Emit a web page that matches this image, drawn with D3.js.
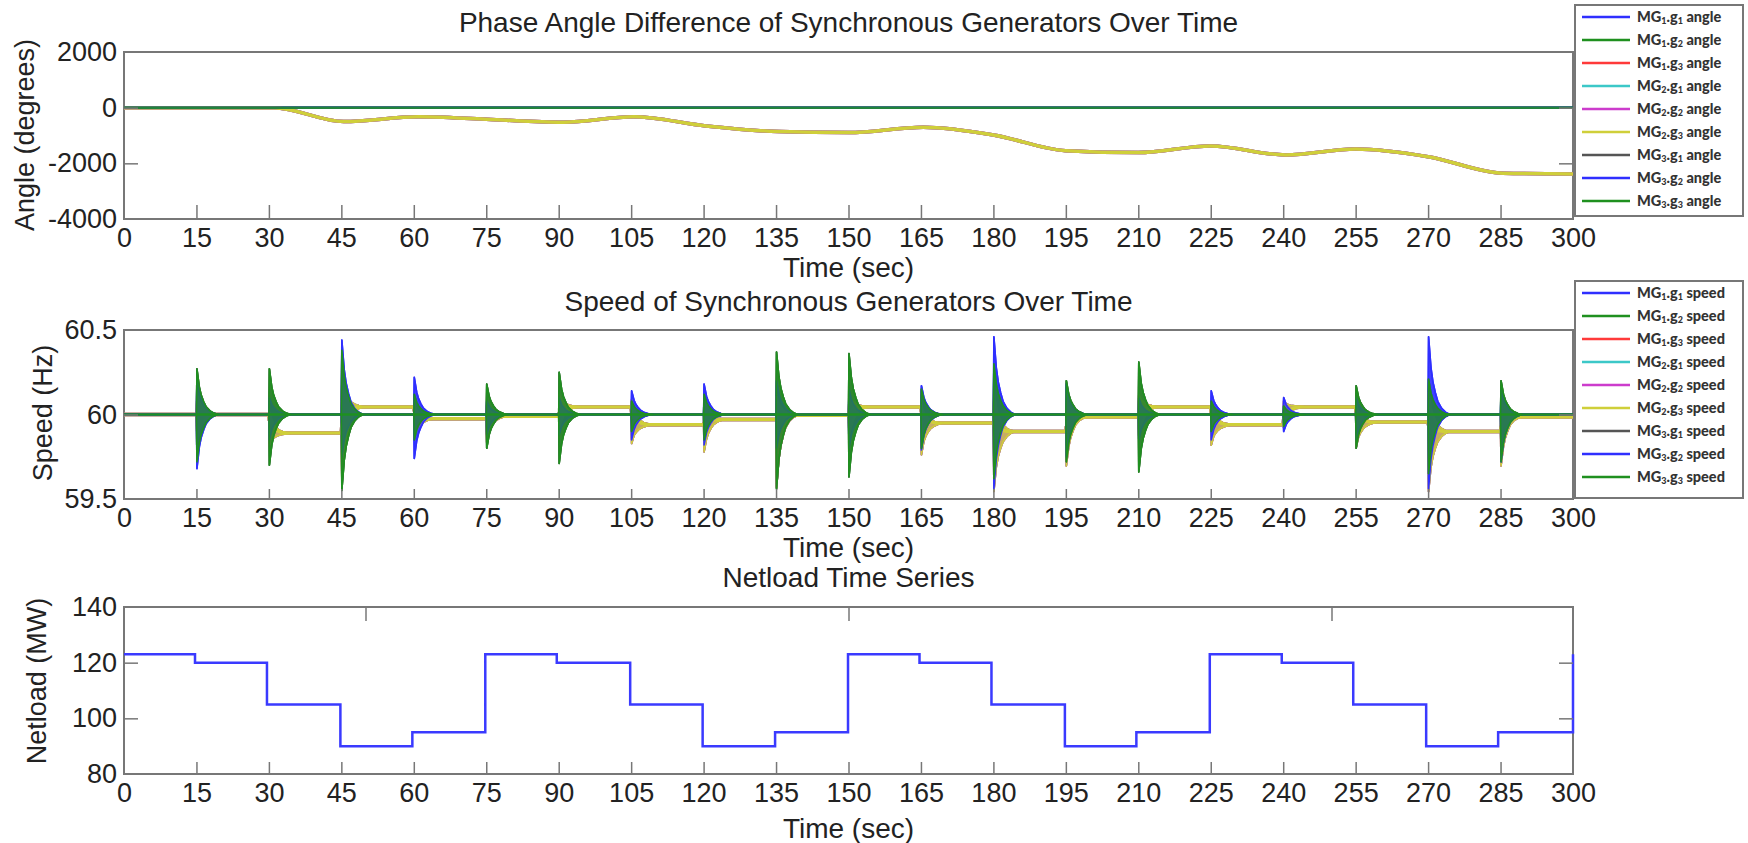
<!DOCTYPE html>
<html>
<head>
<meta charset="utf-8">
<script src="https://cdn.jsdelivr.net/npm/d3@7"></script>
<style>
  body { margin: 0; background: #fff; }
  svg text { font-family: "Liberation Sans", Arial, sans-serif; fill: #222; }
  .legend text { font-family: Lato, "Open Sans", sans-serif; font-weight: 900; fill: #333; }
</style>
</head>
<body>
<script>
// ---- data ----
const timeTicks = [0, 15, 30, 45, 60, 75, 90, 105, 120, 135, 150, 165, 180, 195, 210, 225, 240, 255, 270, 285, 300]
const generators = ['MG1.g1', 'MG1.g2', 'MG1.g3', 'MG2.g1', 'MG2.g2', 'MG2.g3', 'MG3.g1', 'MG3.g2', 'MG3.g3']
const seriesColors = ['#2f2fff', '#1f901f', '#ff3a3a', '#3cc8c8', '#cc3ccc', '#cfcf3a', '#555555', '#2f2fff', '#1f901f']

// phase angle: MG1.g3 and MG2.* drift away, the rest stay at 0
const angleGroup = ['zero', 'zero', 'drift', 'drift', 'drift', 'drift', 'zero', 'zero', 'zero']
const angleTimes = [0, 31, 45.5, 61, 75, 91, 105.5, 120.5, 135.5, 150, 165.5, 180, 195, 210, 225, 240.5, 255, 270, 285.5, 300]
const driftAngle = [0, 0, -500, -330, -420, -525, -325, -655, -860, -895, -705, -980, -1545, -1615, -1375, -1700, -1485, -1760, -2355, -2380]

// speed: one transient at every load step
const speedGroup = ['blue', 'green', 'drift', 'drift', 'drift', 'drift', 'green', 'blue', 'green']
const eventTimes = [15, 30, 45, 60, 75, 90, 105, 120, 135, 150, 165, 180, 195, 210, 225, 240, 255, 270, 285]
const greenHigh = [60.27, 60.27, 60.38, 60.12, 60.18, 60.25, 60.08, 60.12, 60.37, 60.36, 60.15, 60.30, 60.20, 60.31, 60.08, 60.05, 60.17, 60.21, 60.20]
const greenLow = [59.72, 59.70, 59.55, 59.85, 59.80, 59.71, 59.90, 59.85, 59.56, 59.63, 59.80, 59.62, 59.72, 59.66, 59.90, 59.93, 59.80, 59.65, 59.72]
const blueHigh = [60.22, 60.10, 60.44, 60.22, 60.08, 60.10, 60.14, 60.18, 60.20, 60.15, 60.17, 60.46, 60.18, 60.10, 60.14, 60.10, 60.10, 60.46, 60.15]
const blueLow = [59.68, 59.85, 59.75, 59.74, 59.88, 59.88, 59.85, 59.82, 59.80, 59.80, 59.79, 59.56, 59.75, 59.85, 59.85, 59.90, 59.85, 59.56, 59.72]
const driftHigh = [60.12, 60.05, 60.15, 60.08, 60.05, 60.10, 60.12, 60.10, 60.10, 60.10, 60.08, 60.15, 60.10, 60.10, 60.10, 60.05, 60.08, 60.15, 60.10]
const driftLow = [59.85, 59.85, 59.56, 59.88, 59.83, 59.90, 59.86, 59.77, 59.56, 59.85, 59.79, 59.56, 59.67, 59.85, 59.85, 59.89, 59.83, 59.56, 59.67]
const driftLevel = [60.0, 59.89, 60.045, 59.975, 59.99, 60.045, 59.94, 59.97, 59.995, 60.045, 59.95, 59.90, 59.985, 60.045, 59.94, 60.045, 59.955, 59.90, 59.985]
// shape of a transient (seconds after the step, share of the first swing left, share of the level change done)
const burstOffsets = [0, 0.1, 0.6, 1.0, 1.5, 2.0, 2.8, 3.6, 4.5]
const burstDecay = [0, 1, 0.6, 0.42, 0.28, 0.17, 0.08, 0.03, 0]
const burstSettle = [0, 0.3, 0.55, 0.7, 0.8, 0.9, 0.97, 1, 1]

// netload steps
const netloadTimes = [0, 14.7, 29.6, 44.8, 59.7, 74.8, 89.6, 104.8, 119.8, 134.8, 149.9, 164.7, 179.6, 194.8, 209.6, 224.8, 239.7, 254.5, 269.6, 284.5, 300]
const netloadValues = [123, 120, 105, 90, 95, 123, 120, 105, 90, 95, 123, 120, 105, 90, 95, 123, 120, 105, 90, 95, 123]

// ---- layout ----
const width = 1748, height = 843
const svg = d3.select('body').append('svg')
  .attr('width', width)
  .attr('height', height)

const x = d3.scaleLinear().domain([0, 300]).range([124, 1573])

const panels = [
  { id: 'angle', top: 52, bottom: 219, domain: [-4000, 2000], yTicks: [-4000, -2000, 0, 2000], innerY: [-2000, 0],
    tickLen: 14, title: 'Phase Angle Difference of Synchronous Generators Over Time', titleY: 32, xlabelY: 277,
    ylabel: 'Angle (degrees)', ylabelX: 34, ylabelY: 135 },
  { id: 'speed', top: 330, bottom: 499, domain: [59.5, 60.5], yTicks: [59.5, 60, 60.5], innerY: [60],
    tickLen: 10, title: 'Speed of Synchronous Generators Over Time', titleY: 311, xlabelY: 557,
    ylabel: 'Speed (Hz)', ylabelX: 52, ylabelY: 413 },
  { id: 'netload', top: 607, bottom: 774, domain: [80, 140], yTicks: [80, 100, 120, 140], innerY: [100, 120],
    tickLen: 12, topTicks: [50, 150, 250], title: 'Netload Time Series', titleY: 587, xlabelY: 838,
    ylabel: 'Netload (MW)', ylabelX: 46, ylabelY: 681 },
]

// boxes go in first so the data sits on top of the frame
const frames = svg.append('g')

const yScales = {}
panels.forEach(function (p) {
  yScales[p.id] = d3.scaleLinear().domain(p.domain).range([p.bottom, p.top])
  // a bit wider than the box so lines on the edges stay whole
  svg.append('clipPath').attr('id', 'clip-' + p.id)
    .append('rect')
    .attr('x', x(0) - 2).attr('y', p.top - 2)
    .attr('width', x(300) - x(0) + 4).attr('height', p.bottom - p.top + 4)

  frames.append('rect')
    .attr('x', x(0)).attr('y', p.top)
    .attr('width', x(300) - x(0)).attr('height', p.bottom - p.top)
    .attr('fill', 'none')
    .attr('stroke', '#777')
    .attr('stroke-width', 2)
})

// ---- data layers ----
const angleLine = d3.line()
  .x(d => x(d[0]))
  .y(d => yScales.angle(d[1]))
  .curve(d3.curveMonotoneX)

const angleLayer = svg.append('g').attr('clip-path', 'url(#clip-angle)')
generators.forEach(function (g, i) {
  const pts = angleGroup[i] === 'drift'
    ? angleTimes.map((t, k) => [t, driftAngle[k]])
    : [[0, 0], [300, 0]]
  angleLayer.append('path')
    .attr('d', angleLine(pts))
    .attr('fill', 'none')
    .attr('stroke', seriesColors[i])
    .attr('stroke-opacity', angleGroup[i] === 'drift' ? 1 : 0.85)
    .attr('stroke-width', angleGroup[i] === 'drift' ? 3.5 : 2.5)
})

function levelsFor(group) {
  return group === 'drift' ? driftLevel : eventTimes.map(() => 60)
}

function envelopeFor(group) {
  if (group === 'blue') return [blueHigh, blueLow]
  if (group === 'drift') return [driftHigh, driftLow]
  return [greenHigh, greenLow]
}

const speedLine = d3.line()
  .x(d => x(d[0]))
  .y(d => yScales.speed(d[1]))

const burstArea = d3.area()
  .x(d => x(d.t))
  .y0(d => yScales.speed(d.lo))
  .y1(d => yScales.speed(d.hi))

const speedLayer = svg.append('g').attr('clip-path', 'url(#clip-speed)')
generators.forEach(function (g, i) {
  const group = speedGroup[i]
  const levels = levelsFor(group)
  const env = envelopeFor(group)
  const pts = [[0, 60]]
  let prev = 60
  const bursts = []
  eventTimes.forEach(function (t, e) {
    const next = levels[e]
    const burst = burstOffsets.map(function (o, k) {
      const c = prev + (next - prev) * burstSettle[k]
      pts.push([t + o, c])
      return { t: t + o, hi: c + (env[0][e] - prev) * burstDecay[k], lo: c - (prev - env[1][e]) * burstDecay[k] }
    })
    bursts.push(burst)
    prev = next
  })
  pts.push([300, prev])

  const s = speedLayer.append('g')
  s.append('path')
    .attr('d', speedLine(pts))
    .attr('fill', 'none')
    .attr('stroke', seriesColors[i])
    .attr('stroke-width', group === 'drift' ? 3.5 : 2.5)
  s.selectAll('path.burst')
    .data(bursts)
    .enter().append('path')
    .attr('class', 'burst')
    .attr('d', burstArea)
    .attr('fill', seriesColors[i])
    .attr('fill-opacity', 0.7)
    .attr('stroke', seriesColors[i])
    .attr('stroke-width', 1.6)
    .attr('stroke-linejoin', 'round')
})

const netLine = d3.line()
  .x(d => x(d[0]))
  .y(d => yScales.netload(d[1]))
  .curve(d3.curveStepAfter)

svg.append('g').attr('clip-path', 'url(#clip-netload)')
  .append('path')
  .attr('d', netLine(netloadTimes.map((t, k) => [t, netloadValues[k]])))
  .attr('fill', 'none')
  .attr('stroke', '#3a3aff')
  .attr('stroke-width', 2.5)

// ---- axes and labels ----
panels.forEach(function (p) {
  const y = yScales[p.id]
  const g = svg.append('g')

  // inward ticks along the bottom
  g.append('g')
    .attr('transform', `translate(0, ${p.bottom})`)
    .call(d3.axisBottom(x).tickValues(timeTicks.slice(1, -1)).tickSizeInner(-p.tickLen).tickSizeOuter(0).tickFormat(''))
    .call(a => a.select('.domain').remove())
    .call(a => a.selectAll('line').attr('stroke', '#777').attr('stroke-width', 1.5))

  if (p.topTicks) {
    g.append('g')
      .attr('transform', `translate(0, ${p.top})`)
      .call(d3.axisTop(x).tickValues(p.topTicks).tickSizeInner(-14).tickSizeOuter(0).tickFormat(''))
      .call(a => a.select('.domain').remove())
      .call(a => a.selectAll('line').attr('stroke', '#777').attr('stroke-width', 1.5))
  }

  // inward ticks on both sides
  g.append('g')
    .attr('transform', `translate(${x(0)}, 0)`)
    .call(d3.axisLeft(y).tickValues(p.innerY).tickSizeInner(-14).tickSizeOuter(0).tickFormat(''))
    .call(a => a.select('.domain').remove())
    .call(a => a.selectAll('line').attr('stroke', '#777').attr('stroke-width', 1.5))
  g.append('g')
    .attr('transform', `translate(${x(300)}, 0)`)
    .call(d3.axisRight(y).tickValues(p.innerY).tickSizeInner(-14).tickSizeOuter(0).tickFormat(''))
    .call(a => a.select('.domain').remove())
    .call(a => a.selectAll('line').attr('stroke', '#777').attr('stroke-width', 1.5))

  // tick labels
  g.append('g')
    .attr('transform', `translate(0, ${p.bottom})`)
    .call(d3.axisBottom(x).tickValues(timeTicks).tickSize(0).tickPadding(9))
    .call(a => a.select('.domain').remove())
    .call(a => a.selectAll('text').attr('font-size', 27).attr('fill', '#222'))

  g.append('g')
    .attr('transform', `translate(${x(0)}, 0)`)
    .call(d3.axisLeft(y).tickValues(p.yTicks).tickSize(0).tickPadding(7).tickFormat(d => String(d)))
    .call(a => a.select('.domain').remove())
    .call(a => a.selectAll('text').attr('font-size', 27).attr('fill', '#222'))

  g.append('text')
    .attr('x', (x(0) + x(300)) / 2)
    .attr('y', p.titleY)
    .attr('text-anchor', 'middle')
    .attr('font-size', 28)
    .text(p.title)

  g.append('text')
    .attr('x', (x(0) + x(300)) / 2)
    .attr('y', p.xlabelY)
    .attr('text-anchor', 'middle')
    .attr('font-size', 28)
    .text('Time (sec)')

  g.append('text')
    .attr('transform', `translate(${p.ylabelX}, ${p.ylabelY}) rotate(-90)`)
    .attr('text-anchor', 'middle')
    .attr('font-size', 27)
    .text(p.ylabel)
})

// ---- legends ----
function drawLegend(top, boxHeight, suffix) {
  const lg = svg.append('g').attr('class', 'legend')
  lg.append('rect')
    .attr('x', 1575).attr('y', top)
    .attr('width', 168).attr('height', boxHeight)
    .attr('fill', '#fff')
    .attr('stroke', '#777')
    .attr('stroke-width', 2)

  const rows = lg.selectAll('g.row')
    .data(generators)
    .enter().append('g')
    .attr('class', 'row')
    .attr('transform', (d, i) => `translate(0, ${top + 12 + i * 23})`)

  rows.append('line')
    .attr('x1', 1582).attr('x2', 1630)
    .attr('stroke', (d, i) => seriesColors[i])
    .attr('stroke-width', 2.5)

  rows.append('text')
    .attr('x', 1637)
    .attr('y', 5)
    .attr('font-size', 14.5)
    .each(function (name) {
      const t = d3.select(this)
      t.append('tspan').text('MG')
      t.append('tspan').attr('font-size', 9).attr('dy', 2).text(name.charAt(2))
      t.append('tspan').attr('dy', -2).text('.g')
      t.append('tspan').attr('font-size', 9).attr('dy', 2).text(name.charAt(5))
      t.append('tspan').attr('dy', -2).text(' ' + suffix)
    })
}

drawLegend(5, 211, 'angle')
drawLegend(281, 217, 'speed')
</script>
</body>
</html>
